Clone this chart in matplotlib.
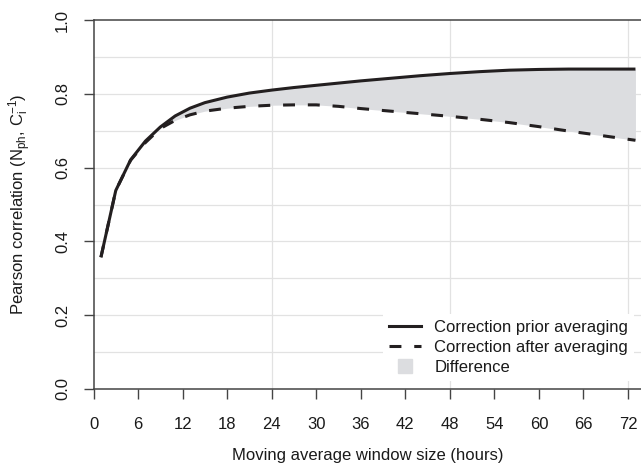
import matplotlib
matplotlib.use("Agg")
import matplotlib.pyplot as plt
from matplotlib.lines import Line2D

plt.rcParams['font.family'] = ['Liberation Sans', 'DejaVu Sans']
plt.rcParams['mathtext.fontset'] = 'custom'
plt.rcParams['mathtext.rm'] = 'Liberation Sans'
plt.rcParams['mathtext.it'] = 'Liberation Sans'

# window size (hours)
window_hours = [1, 3, 5, 7, 9, 11, 13, 15, 18, 21, 24, 27, 30, 33, 36,
                40, 44, 48, 52, 56, 60, 64, 68, 73]
# correlation when the correction is applied before averaging
corr_prior = [0.357, 0.538, 0.621, 0.672, 0.710, 0.740, 0.761, 0.776, 0.791,
              0.802, 0.810, 0.817, 0.823, 0.829, 0.835, 0.842, 0.849, 0.855,
              0.860, 0.864, 0.866, 0.867, 0.867, 0.867]
# correlation when the correction is applied after averaging
corr_after = [0.357, 0.538, 0.620, 0.668, 0.706, 0.728, 0.743, 0.753, 0.761,
              0.766, 0.769, 0.770, 0.770, 0.766, 0.760, 0.753, 0.746, 0.739,
              0.731, 0.722, 0.711, 0.699, 0.688, 0.674]

x_ticks = list(range(0, 73, 6))
y_ticks = [0.0, 0.2, 0.4, 0.6, 0.8, 1.0]
line_col = '#231f20'
fill_col = '#dcdde0'
axis_col = '#444444'
lw = 2.2
dash = (3.9, 4.2)

fig = plt.figure(figsize=(6.41, 4.71), dpi=100)
ax = fig.add_axes([93.5 / 641, 82 / 471, 547.5 / 641, 369 / 471])

# grid
for g in [0.1 * k for k in range(1, 10)]:
    ax.axhline(g, color='#e2e2e2', lw=0.9, zorder=0)
for g in [24, 48, 72]:
    ax.axvline(g, color='#e2e2e2', lw=0.9, zorder=0)

ax.fill_between(window_hours, corr_after, corr_prior, color=fill_col, lw=0, zorder=1)
ax.plot(window_hours, corr_prior, color=line_col, lw=lw, zorder=3,
        solid_capstyle='butt', solid_joinstyle='round')
ax.plot(window_hours, corr_after, color=line_col, lw=lw, zorder=3,
        dashes=dash, dash_capstyle='butt')

ax.set_xlim(0, 547.5 / 7.424)
ax.set_ylim(0, 1)
ax.set_xticks(x_ticks)
ax.set_yticks(y_ticks)
ax.set_yticklabels([f"{v:.1f}" for v in y_ticks], rotation=90, va='center')

ax.spines['right'].set_visible(False)
for side in ['left', 'bottom', 'top']:
    ax.spines[side].set_color(axis_col)
    ax.spines[side].set_linewidth(1.1)

ax.tick_params(axis='both', direction='out', length=7, width=1.0, color=axis_col,
               labelsize=12, labelcolor='#1a1a1a')
ax.tick_params(axis='x', pad=13)
ax.tick_params(axis='y', pad=10)
ax.tick_params(top=False, right=False)

ax.set_xlabel('Moving average window size (hours)', fontsize=12, color='#1a1a1a', labelpad=12)
ax.set_ylabel(r'Pearson correlation (N$_{\mathrm{ph}}$, C$_{\mathrm{i}}^{-1}$)',
              fontsize=12, color='#1a1a1a', labelpad=16)

handles = [Line2D([], [], color=line_col, lw=lw),
           Line2D([], [], color=line_col, lw=lw, dashes=dash),
           Line2D([], [], color=fill_col, marker='s', markersize=10.5, linestyle='none')]
labels = ['Correction prior averaging', 'Correction after averaging', 'Difference']
leg = ax.legend(handles, labels, loc='lower right', bbox_to_anchor=(0.987, 0.022),
                fontsize=12, frameon=True, fancybox=False, framealpha=1,
                facecolor='white', edgecolor='none', borderpad=0.35,
                labelspacing=0.3, handlelength=1.9, handletextpad=0.8,
                borderaxespad=0)
leg.set_zorder(5)
for t in leg.get_texts():
    t.set_color('#1a1a1a')

fig.savefig('out.png', dpi=100)
